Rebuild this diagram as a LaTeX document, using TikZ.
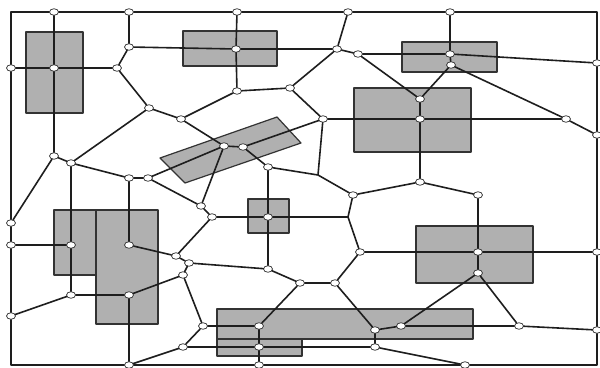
\documentclass[tikz,border=0pt]{standalone}
\usetikzlibrary{shapes.geometric}
\definecolor{BlockGray}{HTML}{B0B0B0}
\definecolor{EdgeInk}{HTML}{1E1E1E}
\begin{document}
\begin{tikzpicture}[x=1pt,y=-1pt,line cap=round,line join=round,
  block/.style={fill=BlockGray,draw=black!80,line width=1.2pt},
  edge/.style={draw=EdgeInk,line width=1.6pt},
  vx/.style={ellipse,draw=black!75,fill=white,line width=0.8pt,minimum width=9pt,minimum height=6.5pt,inner sep=0pt}]
  \useasboundingbox (0,0) rectangle (600,367);
  % obstacles
  \draw[block] (26,32) rectangle (83,113); \draw[block] (183,31) rectangle (277,66);
  \draw[block] (402,42) rectangle (497,72); \draw[block] (354,88) rectangle (471,152);
  \draw[block] (160,158)--(277,117)--(301,143)--(185,183)--cycle;
  \draw[block] (248,199) rectangle (289,233); \draw[block] (54,210) rectangle (96,275);
  \draw[block] (96,210) rectangle (158,324); \draw[block] (416,226) rectangle (533,283);
  \draw[block] (217,309) rectangle (473,339); \draw[block] (217,339) rectangle (302,356);
  \draw[EdgeInk,line width=1.4pt] (11,12) rectangle (597,365);
  % border vertices
  \node[vx] (t1) at (54,12) {}; \node[vx] (t2) at (129,12) {}; \node[vx] (t3) at (237,12) {};
  \node[vx] (t4) at (348,12) {}; \node[vx] (t5) at (450,12) {};
  \node[vx] (l1) at (11,68) {}; \node[vx] (l2) at (11,223) {}; \node[vx] (l3) at (11,245) {}; \node[vx] (l4) at (11,316) {};
  \node[vx] (r1) at (597,63) {}; \node[vx] (r2) at (597,135) {}; \node[vx] (r3) at (597,252) {}; \node[vx] (r4) at (597,330) {};
  \node[vx] (b1) at (129,365) {}; \node[vx] (b2) at (259,365) {}; \node[vx] (b3) at (465,365) {};
  % inner vertices
  \node[vx] (a1) at (54,68) {}; \node[vx] (a2) at (117,68) {}; \node[vx] (a3) at (129,47) {};
  \node[vx] (a4) at (149,108) {}; \node[vx] (a5) at (181,119) {}; \node[vx] (a6) at (54,156) {};
  \node[vx] (a7) at (71,163) {}; \node[vx] (a8) at (129,178) {}; \node[vx] (a9) at (148,178) {};
  \node[vx] (c1) at (236,49) {}; \node[vx] (c2) at (237,91) {}; \node[vx] (c3) at (290,88) {};
  \node[vx] (c4) at (337,49) {}; \node[vx] (c5) at (358,54) {}; \node[vx] (c6) at (323,119) {};
  \node[vx] (d1) at (224,146) {}; \node[vx] (d2) at (243,147) {}; \node[vx] (d3) at (268,167) {};
  \node[vx] (e1) at (201,206) {}; \node[vx] (e2) at (212,217) {}; \node[vx] (e3) at (268,217) {};
  \node[vx] (e4) at (353,195) {};
  \coordinate (k1) at (318,175); \coordinate (k2) at (348,217);
  \node[vx] (f1) at (450,54) {}; \node[vx] (f2) at (451,65) {}; \node[vx] (f3) at (420,99) {};
  \node[vx] (f4) at (420,119) {}; \node[vx] (f5) at (566,119) {}; \node[vx] (f6) at (420,182) {};
  \node[vx] (f7) at (478,195) {}; \node[vx] (f8) at (478,252) {}; \node[vx] (f9) at (478,273) {};
  \node[vx] (g1) at (360,252) {}; \node[vx] (g2) at (268,269) {}; \node[vx] (g3) at (300,283) {};
  \node[vx] (g4) at (335,283) {}; \node[vx] (g5) at (375,330) {}; \node[vx] (g6) at (401,326) {};
  \node[vx] (g7) at (519,326) {}; \node[vx] (g8) at (375,347) {};
  \node[vx] (h1) at (71,245) {}; \node[vx] (h2) at (129,245) {}; \node[vx] (h3) at (176,256) {};
  \node[vx] (h4) at (189,263) {}; \node[vx] (h5) at (183,275) {}; \node[vx] (h6) at (71,295) {};
  \node[vx] (h7) at (129,295) {}; \node[vx] (h8) at (203,326) {}; \node[vx] (h9) at (259,326) {};
  \node[vx] (h10) at (183,347) {}; \node[vx] (h11) at (259,347) {};
  % roadmap edges
  \draw[edge] (t1)--(a1)--(a6) (l1)--(a1)--(a2) (t2)--(a3)--(a2) (a3)--(c1)--(c4)
    (a2)--(a4)--(a5) (a4)--(a7) (a6)--(a7) (a6)--(l2) (a7)--(a8)--(a9)
    (a9)--(d1) (a5)--(d1) (a5)--(c2) (t3)--(c1)--(c2)--(c3)--(c4) (c3)--(c6)
    (t4)--(c4)--(c5)--(f1) (c5)--(f3) (d1)--(d2)--(c6) (d1)--(e1) (d2)--(d3)
    (c6)--(f4) (c6)--(k1) (d3)--(k1)--(e4) (d3)--(e3)--(g2)
    (e1)--(a9) (e1)--(e2)--(e3)--(k2) (e4)--(k2)--(g1)
    (e4)--(f6)--(f7) (f6)--(f4)--(f3)--(f2)--(f1)--(t5) (f1)--(r1) (f4)--(f5) (f2)--(f5)--(r2)
    (f7)--(f8)--(f9) (g1)--(f8)--(r3) (f9)--(g6) (f9)--(g7)--(r4) (g6)--(g7) (g5)--(g6)
    (g1)--(g4)--(g3)--(g2)--(h4) (g3)--(h9) (g4)--(g5)--(g8)--(h11) (g8)--(b3)
    (h9)--(h11)--(b2) (h8)--(h9) (h8)--(h10)--(h11) (h10)--(b1) (h7)--(b1)
    (h7)--(h6)--(l4) (h6)--(h1)--(a7) (h1)--(l3) (h2)--(a8) (h2)--(h3)--(e2)
    (h3)--(h4)--(h5)--(h7) (h5)--(h8);
\end{tikzpicture}
\end{document}
